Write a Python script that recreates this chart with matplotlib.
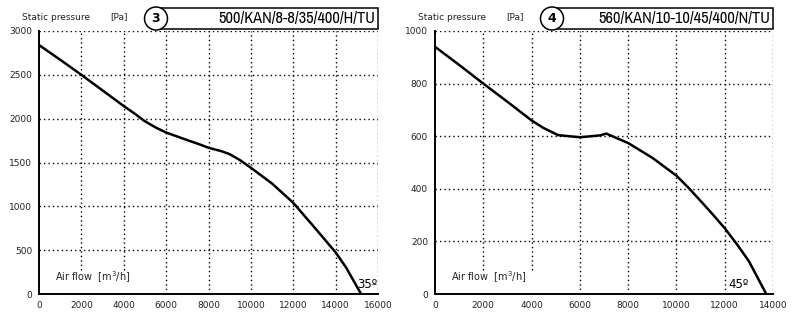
import numpy as np
import matplotlib.pyplot as plt
from matplotlib import font_manager
from matplotlib.patches import Rectangle, Ellipse

# Curva 3: 500/KAN/8-8/35/400/H/TU
caudal_3 = [0, 1000, 2000, 3000, 4000, 4500, 4970, 5500, 6000, 7000, 7600, 8000, 8600, 9000,
            9500, 10000, 11000, 12000, 13000, 14000, 14500, 15200]
presion_3 = [2840, 2672, 2500, 2322, 2144, 2060, 1975, 1900, 1842, 1755, 1705, 1668, 1630, 1595,
             1525, 1440, 1260, 1040, 760, 475, 300, 0]

# Curva 4: 560/KAN/10-10/45/400/N/TU
caudal_4 = [0, 1030, 2000, 2970, 4000, 4480, 5100, 6000, 6830, 7100, 7240, 8000, 9000, 10000,
            10500, 11000, 11500, 12000, 12500, 13000, 13720]
presion_4 = [940, 869, 800, 733, 660, 632, 604, 596, 603, 610, 604, 574, 518, 450,
             404, 354, 303, 250, 190, 125, 0]

graficas = [
    dict(x=caudal_3, y=presion_3, xmax=16000, ymax=3000, ypaso=500, num="3",
         nombre="500/KAN/8-8/35/400/H/TU", angulo="35º", xang=0.997, left=39, width=339),
    dict(x=caudal_4, y=presion_4, xmax=14000, ymax=1000, ypaso=200, num="4",
         nombre="560/KAN/10-10/45/400/N/TU", angulo="45º", xang=0.928, left=435, width=338),
]

# fuente estrecha para el nombre del modelo, si hay alguna instalada
estrechas = sorted({f.name for f in font_manager.fontManager.ttflist
                    if "Narrow" in f.name or "Condensed" in f.name})
fuente_titulo = estrechas[:1] + ["DejaVu Sans"]
tam_titulo = 11.8 if estrechas else 8

W, H = 800, 322
fig = plt.figure(figsize=(W / 100, H / 100), dpi=100)
fig.patch.set_facecolor("white")

puntos = (0, (1, 2.2))
top, bottom = 31, 294

for g in graficas:
    ax = fig.add_axes([g["left"] / W, (H - bottom) / H, g["width"] / W, (bottom - top) / H])
    ax.set_xlim(0, g["xmax"])
    ax.set_ylim(0, g["ymax"])
    xt = np.arange(0, g["xmax"] + 1, 2000)
    yt = np.arange(0, g["ymax"] + 1, g["ypaso"])
    ax.set_xticks(xt)
    ax.set_yticks(yt)
    ax.tick_params(length=0, labelsize=6.5, colors="#222222", pad=5)

    # rejilla punteada
    for v in xt[1:]:
        y0 = 0.09 if v <= 4000 else 0
        ax.plot([v, v], [y0 * g["ymax"], g["ymax"]], color="black", lw=1, ls=puntos, zorder=1)
    for v in yt[1:]:
        ax.axhline(v, color="black", lw=1, ls=puntos, zorder=1)

    for s in ("top", "right"):
        ax.spines[s].set_visible(False)
    for s in ("left", "bottom"):
        ax.spines[s].set_linewidth(1.4)

    ax.plot(g["x"], g["y"], color="black", lw=1.8, zorder=3, solid_joinstyle="round")

    ax.text(0.047, 0.035, "Air flow  [m$^3$/h]", transform=ax.transAxes,
            fontsize=7, color="#222222", ha="left", va="bottom")
    ax.text(g["xang"], 0.01, g["angulo"], transform=ax.transAxes,
            fontsize=8.5, color="black", ha="right", va="bottom")

    # cabecera
    x0 = g["left"]
    fig.text((x0 - 17) / W, (H - 17) / H, "Static pressure", fontsize=6.5, color="#222222",
             ha="left", va="center")
    fig.text((x0 + 71) / W, (H - 17) / H, "[Pa]", fontsize=6.5, color="#222222",
             ha="left", va="center")
    cx = x0 + 117
    xr = x0 + g["width"]
    fig.add_artist(Rectangle((cx / W, (H - 29) / H), (xr - cx) / W, 21 / H,
                             transform=fig.transFigure, fill=False, ec="black", lw=1.1))
    fig.add_artist(Ellipse((cx / W, (H - 18.5) / H), 23 / W, 23 / H,
                           transform=fig.transFigure, fc="white", ec="black", lw=1.1))
    fig.text(cx / W, (H - 18.5) / H, g["num"], fontsize=9, fontweight="bold",
             ha="center", va="center")
    fig.text((xr - 3) / W, (H - 18) / H, g["nombre"], fontsize=tam_titulo, fontweight="bold",
             family=fuente_titulo, ha="right", va="center")

fig.savefig("out.png", dpi=100)
